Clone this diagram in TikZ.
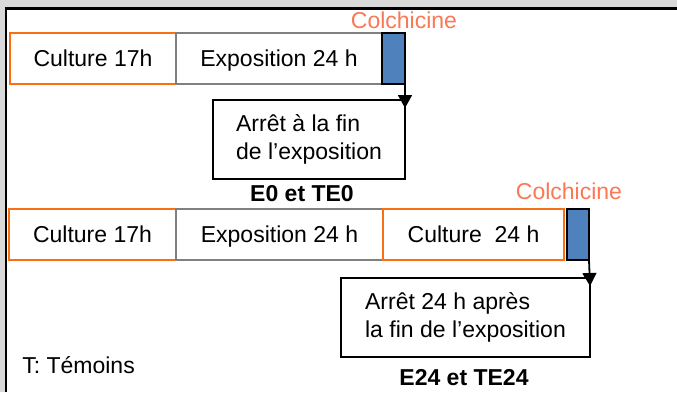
\documentclass[tikz,border=0pt]{standalone}
\usepackage{fontspec}
\setmainfont{Liberation Sans}
\usepackage{tikz}
\usetikzlibrary{arrows.meta}
\definecolor{cultorange}{RGB}{250,110,20}
\definecolor{expogray}{RGB}{128,128,128}
\definecolor{colchblue}{RGB}{79,129,189}
\definecolor{colchtext}{RGB}{250,120,85}
\definecolor{framegray}{RGB}{217,217,217}
\tikzset{
  every node/.style={font=\fontsize{23}{28}\selectfont, outer sep=0pt},
  cultbox/.style={draw=cultorange, line width=1.8pt, minimum height=51pt, inner sep=0pt, text height=16.5pt, text depth=0pt},
  expobox/.style={draw=expogray, line width=1.8pt, minimum height=51pt, inner sep=0pt, text height=16.5pt, text depth=0pt},
  colchbar/.style={draw=black, fill=colchblue, line width=1.8pt, minimum height=51pt, inner sep=0pt},
  stopbox/.style={draw=black, line width=1.8pt, minimum height=79pt, align=left, inner sep=0pt},
  colchlabel/.style={text=colchtext},
  stoparrow/.style={line width=1.8pt, -{Triangle[width=14pt,length=13pt]}}
}

\begin{document}
\begin{tikzpicture}[x=1pt, y=-1pt]
	\useasboundingbox (0,0) rectangle (677,392);
	\fill[framegray] (0,0) rectangle (677,392);
	\fill[white] (6,9) rectangle (677,392);
	\draw[line width=2.6pt] (6,392) -- (6,8.7) -- (677,8.7);

	\node[cultbox, minimum width=166pt] (cult1) at (93,58.5) {Culture 17h};
	\node[expobox, minimum width=206pt] (expo1) at (279,58.5) {Exposition 24 h};
	\node[colchbar, minimum width=23pt] (colch1) at (393.5,58.5) {};
	\node[colchlabel] (lab1) at (404,20) {Colchicine};
	\node[stopbox, minimum width=192pt] (stop1) at (309,139.5) {Arrêt à la fin\\de l’exposition};
	\node[font=\fontsize{23}{28}\selectfont\bfseries] (res1) at (302,194) {E0 et TE0};
	\draw[stoparrow] (colch1.south east) -- ([yshift=-8pt]stop1.north east);

	\node[cultbox, minimum width=167pt] (cult2) at (92.5,234.5) {Culture 17h};
	\node[expobox, minimum width=207pt] (expo2) at (279.5,234.5) {Exposition 24 h};
	\node[cultbox, minimum width=181pt] (cult3) at (473.5,234.5) {Culture \ 24 h};
	\node[colchbar, minimum width=22pt] (colch2) at (578,234.5) {};
	\node[colchlabel] (lab2) at (569,191) {Colchicine};
	\node[stopbox, minimum width=249pt] (stop2) at (465.5,317.5) {Arrêt 24 h après\\la fin de l’exposition};
	\node[font=\fontsize{23}{28}\selectfont\bfseries] (res2) at (464,378) {E24 et TE24};
	\draw[stoparrow] (colch2.south east) -- ([yshift=-8pt]stop2.north east);

	\node[anchor=west] (temoin) at (19,365) {T: Témoins};
\end{tikzpicture}
\end{document}
